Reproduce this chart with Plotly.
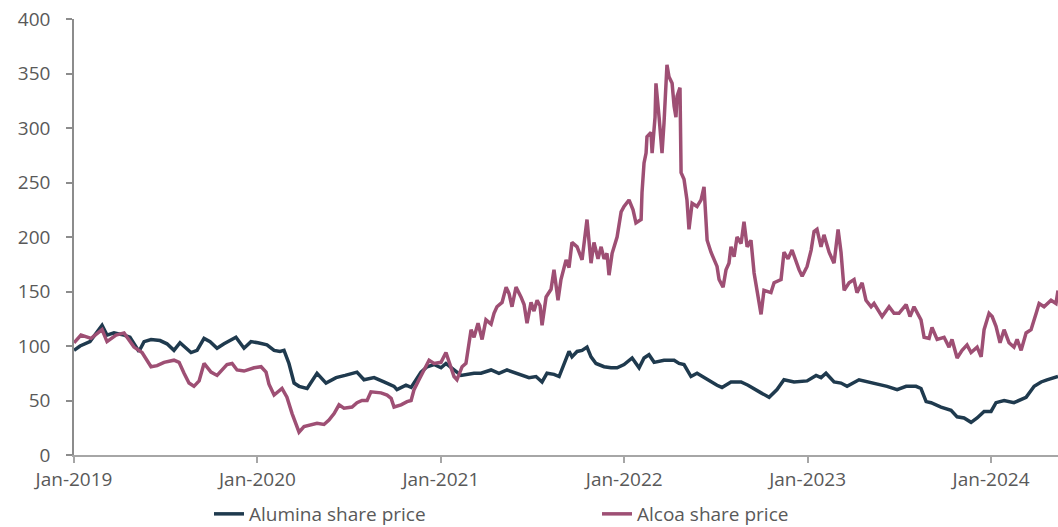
import plotly.graph_objects as go

# ---- data (x in decimal years) ----
alumina_t = [2019.000, 2019.033, 2019.087, 2019.153, 2019.180, 2019.218, 2019.273, 2019.305, 2019.354, 2019.382,
             2019.420, 2019.469, 2019.507, 2019.545, 2019.578, 2019.638, 2019.671, 2019.709, 2019.742, 2019.780,
             2019.818, 2019.883, 2019.927, 2019.965, 2020.003, 2020.052, 2020.091, 2020.123, 2020.145, 2020.172,
             2020.200, 2020.227, 2020.271, 2020.298, 2020.325, 2020.374, 2020.429, 2020.478, 2020.543, 2020.581,
             2020.636, 2020.690, 2020.745, 2020.761, 2020.810, 2020.838, 2020.865, 2020.892, 2020.925, 2020.963,
             2021.001, 2021.028, 2021.072, 2021.110, 2021.181, 2021.219, 2021.274, 2021.317, 2021.361, 2021.416,
             2021.481, 2021.519, 2021.552, 2021.579, 2021.617, 2021.645, 2021.672, 2021.699, 2021.715, 2021.743,
             2021.770, 2021.797, 2021.819, 2021.846, 2021.890, 2021.928, 2021.961, 2021.999, 2022.043, 2022.081,
             2022.108, 2022.135, 2022.163, 2022.217, 2022.272, 2022.299, 2022.326, 2022.364, 2022.397, 2022.435,
             2022.473, 2022.506, 2022.533, 2022.582, 2022.637, 2022.675, 2022.746, 2022.790, 2022.833, 2022.871,
             2022.926, 2022.997, 2023.046, 2023.073, 2023.100, 2023.144, 2023.182, 2023.215, 2023.280, 2023.362,
             2023.433, 2023.488, 2023.537, 2023.591, 2023.618, 2023.646, 2023.673, 2023.727, 2023.782, 2023.815,
             2023.853, 2023.891, 2023.924, 2023.962, 2024.000, 2024.027, 2024.071, 2024.125, 2024.191, 2024.235,
             2024.273, 2024.305, 2024.365]
alumina_v = [96, 100, 104, 119, 110, 112, 110, 108, 95, 104,
             106, 105, 102, 96, 103, 94, 96, 107, 104, 98,
             102, 108, 98, 104, 103, 101, 96, 95, 96, 84,
             66, 63, 61, 68, 75, 66, 71, 73, 76, 69,
             71, 67, 63, 60, 64, 62, 69, 76, 81, 83,
             80, 84, 78, 73, 75, 75, 78, 75, 78, 75,
             71, 72, 67, 75, 74, 72, 84, 95, 90, 95,
             96, 99, 90, 84, 81, 80, 80, 83, 89, 80,
             89, 92, 85, 87, 87, 84, 83, 72, 75, 71,
             67, 64, 62, 67, 67, 64, 57, 53, 60, 69,
             67, 68, 73, 71, 75, 67, 66, 63, 69, 66,
             63, 60, 63, 63, 61, 49, 48, 44, 41, 35,
             34, 30, 34, 40, 40, 48, 50, 48, 53, 63,
             67, 69, 72]

alcoa_t = [2019.000, 2019.038, 2019.093, 2019.153, 2019.180, 2019.229, 2019.273, 2019.327, 2019.371, 2019.420,
           2019.453, 2019.491, 2019.545, 2019.573, 2019.600, 2019.627, 2019.654, 2019.682, 2019.709, 2019.747,
           2019.780, 2019.834, 2019.862, 2019.889, 2019.927, 2019.982, 2020.020, 2020.047, 2020.063, 2020.091,
           2020.134, 2020.161, 2020.189, 2020.216, 2020.227, 2020.254, 2020.292, 2020.325, 2020.363, 2020.390,
           2020.418, 2020.445, 2020.472, 2020.516, 2020.543, 2020.570, 2020.598, 2020.619, 2020.674, 2020.707,
           2020.729, 2020.745, 2020.783, 2020.816, 2020.838, 2020.854, 2020.881, 2020.908, 2020.936, 2020.963,
           2021.001, 2021.028, 2021.045, 2021.072, 2021.088, 2021.116, 2021.137, 2021.154, 2021.165, 2021.181,
           2021.203, 2021.225, 2021.246, 2021.274, 2021.290, 2021.306, 2021.334, 2021.356, 2021.372, 2021.388,
           2021.410, 2021.437, 2021.454, 2021.470, 2021.492, 2021.508, 2021.525, 2021.541, 2021.552, 2021.574,
           2021.601, 2021.617, 2021.639, 2021.655, 2021.683, 2021.699, 2021.715, 2021.743, 2021.770, 2021.797,
           2021.819, 2021.835, 2021.857, 2021.874, 2021.890, 2021.906, 2021.917, 2021.934, 2021.961, 2021.983,
           2021.999, 2022.026, 2022.048, 2022.064, 2022.092, 2022.097, 2022.108, 2022.119, 2022.124, 2022.146,
           2022.152, 2022.168, 2022.173, 2022.190, 2022.206, 2022.217, 2022.228, 2022.233, 2022.244, 2022.261,
           2022.272, 2022.282, 2022.288, 2022.304, 2022.310, 2022.326, 2022.342, 2022.353, 2022.370, 2022.397,
           2022.419, 2022.435, 2022.452, 2022.473, 2022.506, 2022.517, 2022.539, 2022.555, 2022.571, 2022.582,
           2022.599, 2022.615, 2022.637, 2022.653, 2022.670, 2022.691, 2022.708, 2022.735, 2022.746, 2022.762,
           2022.800, 2022.817, 2022.855, 2022.871, 2022.893, 2022.915, 2022.937, 2022.953, 2022.970, 2022.997,
           2023.019, 2023.035, 2023.051, 2023.073, 2023.089, 2023.117, 2023.144, 2023.166, 2023.182, 2023.199,
           2023.226, 2023.253, 2023.269, 2023.297, 2023.318, 2023.346, 2023.362, 2023.406, 2023.444, 2023.471,
           2023.498, 2023.537, 2023.558, 2023.580, 2023.618, 2023.635, 2023.662, 2023.678, 2023.706, 2023.744,
           2023.771, 2023.787, 2023.815, 2023.842, 2023.869, 2023.891, 2023.924, 2023.946, 2023.962, 2023.989,
           2024.006, 2024.027, 2024.049, 2024.071, 2024.098, 2024.125, 2024.142, 2024.164, 2024.191, 2024.218,
           2024.246, 2024.262, 2024.289, 2024.327, 2024.354, 2024.365]
alcoa_v = [103, 110, 107, 115, 104, 110, 112, 99, 94, 81,
           82, 85, 87, 85, 75, 66, 63, 68, 84, 76,
           73, 83, 84, 78, 77, 80, 81, 76, 65, 55,
           61, 53, 38, 25, 21, 26, 28, 29, 28, 32,
           38, 46, 43, 44, 48, 50, 50, 58, 57, 55,
           52, 44, 46, 49, 50, 60, 69, 78, 87, 84,
           85, 94, 85, 72, 69, 81, 84, 106, 115, 108,
           121, 106, 124, 120, 130, 136, 140, 154, 148, 136,
           154, 145, 138, 121, 140, 132, 142, 137, 119, 145,
           152, 170, 142, 161, 179, 172, 195, 191, 179, 216,
           176, 195, 180, 191, 180, 185, 165, 185, 200, 223,
           228, 234, 225, 213, 216, 241, 268, 277, 292, 296,
           277, 310, 341, 310, 277, 305, 341, 358, 347, 341,
           320, 310, 329, 337, 259, 253, 234, 207, 231, 228,
           234, 246, 197, 186, 173, 161, 154, 170, 176, 191,
           182, 200, 194, 214, 191, 197, 167, 139, 129, 151,
           149, 158, 161, 186, 180, 188, 176, 170, 164, 173,
           188, 205, 207, 191, 202, 186, 176, 207, 186, 151,
           158, 161, 149, 158, 142, 136, 139, 127, 136, 130,
           130, 138, 127, 136, 124, 108, 107, 117, 106, 108,
           99, 106, 89, 96, 101, 94, 99, 90, 115, 130,
           127, 118, 103, 115, 103, 99, 106, 96, 112, 115,
           130, 139, 136, 142, 139, 151]

tick_vals = [2019, 2020, 2021, 2022, 2023, 2024]
tick_text = ["Jan-2019", "Jan-2020", "Jan-2021", "Jan-2022", "Jan-2023", "Jan-2024"]
series_names = ["Alumina share price", "Alcoa share price"]
colors = ["#1f3a4e", "#9e4f74"]

FONT = "Open Sans, Roboto, sans-serif"
TXT = "#595959"

fig = go.Figure()
fig.add_trace(go.Scatter(x=alumina_t, y=alumina_v, mode="lines", name=series_names[0],
                         line=dict(color=colors[0], width=3.5), legend="legend"))
fig.add_trace(go.Scatter(x=alcoa_t, y=alcoa_v, mode="lines", name=series_names[1],
                         line=dict(color=colors[1], width=3.5), legend="legend2"))

leg_common = dict(xref="container", yref="container", orientation="h",
                  xanchor="left", yanchor="middle", bgcolor="rgba(0,0,0,0)",
                  font=dict(family=FONT, size=19, color=TXT), itemwidth=30)

fig.update_layout(
    width=1058, height=527,
    margin=dict(l=74, r=0, t=19, b=72),
    paper_bgcolor="white", plot_bgcolor="white",
    font=dict(family=FONT, size=19, color=TXT),
    showlegend=True,
    xaxis=dict(range=[2019, 2024.365], tickvals=tick_vals, ticktext=tick_text,
               showgrid=False, zeroline=False, showline=True, linecolor="#a6a6a6", linewidth=1.5,
               ticks="outside", ticklen=6, tickcolor="#a6a6a6", tickwidth=1.5,
               tickfont=dict(family=FONT, size=19, color=TXT)),
    yaxis=dict(range=[0, 400], dtick=50, tick0=0,
               showgrid=False, zeroline=False, showline=True, linecolor="#8c8c8c", linewidth=1.5,
               ticks="outside", ticklen=6, tickcolor="#8c8c8c", tickwidth=1.5,
               ticklabelstandoff=12,
               tickfont=dict(family=FONT, size=19, color=TXT)),
    legend=dict(x=209 / 1058, y=1 - 514 / 527, **leg_common),
    legend2=dict(x=597 / 1058, y=1 - 514 / 527, **leg_common),
)

fig.write_html("out.html", config={"displayModeBar": False},
               post_script="document.body.style.margin='0px';document.body.style.overflow='hidden';")
